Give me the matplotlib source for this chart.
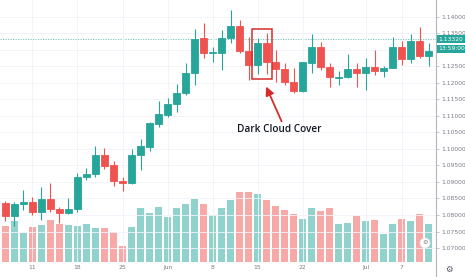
import matplotlib
matplotlib.use("Agg")
import matplotlib.pyplot as plt
from matplotlib.patches import Rectangle
import numpy as np

# daily EURUSD candles, 6 May - 10 Jul
opens = [1.0837, 1.0797, 1.0834, 1.0840, 1.0808, 1.0848, 1.0819, 1.0805, 1.0818, 1.0916,
         1.0923, 1.0982, 1.0952, 1.0902, 1.0896, 1.0982, 1.1007, 1.1076, 1.1103, 1.1135,
         1.1169, 1.1231, 1.1335, 1.1290, 1.1292, 1.1337, 1.1374, 1.1298, 1.1255, 1.1322,
         1.1263, 1.1242, 1.1204, 1.1177, 1.1261, 1.1308, 1.1249, 1.1216, 1.1217, 1.1242,
         1.1229, 1.1248, 1.1236, 1.1246, 1.1308, 1.1272, 1.1328, 1.1283]
closes = [1.0797, 1.0834, 1.0840, 1.0809, 1.0848, 1.0818, 1.0805, 1.0819, 1.0916, 1.0924,
          1.0982, 1.0949, 1.0903, 1.0897, 1.0982, 1.1009, 1.1078, 1.1105, 1.1135, 1.1169,
          1.1231, 1.1332, 1.1290, 1.1295, 1.1337, 1.1374, 1.1298, 1.1255, 1.1322, 1.1263,
          1.1242, 1.1204, 1.1177, 1.1263, 1.1309, 1.1249, 1.1217, 1.1218, 1.1242, 1.1229,
          1.1248, 1.1237, 1.1245, 1.1308, 1.1272, 1.1328, 1.1282, 1.1298]
highs = [1.0843, 1.0838, 1.0876, 1.0855, 1.0885, 1.0898, 1.0825, 1.0852, 1.0928, 1.0942,
         1.1009, 1.1003, 1.0964, 1.0916, 1.0999, 1.1030, 1.1082, 1.1145, 1.1155, 1.1196,
         1.1261, 1.1363, 1.1383, 1.1310, 1.1361, 1.1421, 1.1391, 1.1340, 1.1335, 1.1352,
         1.1300, 1.1260, 1.1245, 1.1265, 1.1349, 1.1325, 1.1260, 1.1237, 1.1288, 1.1262,
         1.1275, 1.1300, 1.1252, 1.1340, 1.1328, 1.1348, 1.1371, 1.1322]
lows = [1.0783, 1.0767, 1.0815, 1.0800, 1.0785, 1.0810, 1.0776, 1.0803, 1.0810, 1.0906,
        1.0916, 1.0939, 1.0888, 1.0873, 1.0894, 1.0936, 1.0995, 1.1068, 1.1097, 1.1113,
        1.1164, 1.1194, 1.1276, 1.1265, 1.1239, 1.1320, 1.1290, 1.1209, 1.1227, 1.1227,
        1.1204, 1.1194, 1.1171, 1.1174, 1.1231, 1.1239, 1.1189, 1.1194, 1.1214, 1.1189,
        1.1179, 1.1224, 1.1219, 1.1245, 1.1255, 1.1260, 1.1275, 1.1252]
volumes = [36, 41, 29, 35, 37, 42, 38, 37, 36, 38,
           34, 34, 30, 16, 35, 54, 49, 55, 45, 54,
           58, 63, 58, 47, 54, 62, 70, 70, 68, 62,
           56, 52, 48, 43, 54, 51, 54, 38, 39, 46,
           41, 42, 28, 38, 43, 41, 48, 38]

xtick_pos = [3, 8, 13, 18, 23, 28, 33, 40, 44]
xtick_labels = ["11", "18", "25", "Jun", "8", "15", "22", "Jul", "7"]
price_ticks = np.arange(1.070, 1.1401, 0.005)
last_price = 1.13320
countdown = "13:59:00"
pattern_idx = [28, 29]

UP = "#26a69a"
DOWN = "#ef5350"
UP_VOL = "#92d2cc"
DOWN_VOL = "#f7a9a7"
LABEL = "#787b86"

o = np.array(opens)
c = np.array(closes)
x = np.arange(len(o))
up = c >= o
col = np.where(up, UP, DOWN)
vcol = np.where(up, UP_VOL, DOWN_VOL)

fig = plt.figure(figsize=(4.65, 2.77), dpi=100)
rect = [0, 15 / 277, 436 / 465, 262 / 277]
axv = fig.add_axes(rect)
ax = fig.add_axes(rect)
ax.patch.set_visible(False)

# volume pane behind the candles
axv.bar(x, volumes, width=0.88, color=vcol, zorder=2)
axv.set_ylim(0, 262)
axv.set_xlim(-0.61, 47.83)
axv.axis("off")

# candles
ax.vlines(x, lows, highs, colors=col, lw=0.8, zorder=3)
ax.bar(x, np.abs(c - o), bottom=np.minimum(o, c), width=0.78, color=col,
       edgecolor=col, linewidth=0.6, zorder=4)

ax.set_xlim(-0.61, 47.83)
ax.set_ylim(1.065758, 1.14515)

ax.axhline(last_price, color=UP, lw=0.6, ls=(0, (1.5, 1.5)), alpha=0.7, zorder=1)

# the 1.13000 label sits under the countdown tag
ylabels = ["%.5f" % p for p in price_ticks]
hidden = int(np.argmin(np.abs(price_ticks - 1.130)))
ylabels[hidden] = ""

ax.yaxis.tick_right()
ax.set_yticks(price_ticks)
ax.set_yticklabels(ylabels)
ax.set_xticks(xtick_pos)
ax.set_xticklabels(xtick_labels)
ax.tick_params(axis="y", labelsize=4.3, colors="#b2b5be", labelcolor=LABEL,
               length=2, width=0.5, pad=1.5)
ax.tick_params(axis="x", labelsize=4.3, labelcolor=LABEL, length=0, pad=2.5)
ax.grid(True, color="#f0f3fa", lw=0.6, zorder=0)
for s in ["left", "top", "bottom"]:
    ax.spines[s].set_visible(False)
ax.spines["right"].set_color("#b2b5be")
ax.spines["right"].set_linewidth(0.8)

# last price tag + countdown
ax.annotate("%.5f" % last_price, xy=(1.0, last_price), xycoords=("axes fraction", "data"),
            xytext=(2, 0), textcoords="offset points", ha="left", va="center",
            fontsize=4.3, color="white",
            bbox=dict(boxstyle="square,pad=0.25", fc=UP, ec="none"), zorder=10,
            annotation_clip=False)
ax.annotate(countdown, xy=(1.0, last_price), xycoords=("axes fraction", "data"),
            xytext=(2, -6.6), textcoords="offset points", ha="left", va="center",
            fontsize=4.3, color="white",
            bbox=dict(boxstyle="square,pad=0.25", fc=UP, ec="none"), zorder=10,
            annotation_clip=False)

# dark cloud cover marker
x0 = pattern_idx[0] - 0.65
x1 = pattern_idx[-1] + 0.57
y0 = min(lows[pattern_idx[0]:pattern_idx[-1] + 1]) - 0.0015
y1 = max(highs[pattern_idx[0]:pattern_idx[-1] + 1]) + 0.0011
ax.add_patch(Rectangle((x0, y0), x1 - x0, y1 - y0, fill=False, ec="#d62c2c",
                       lw=1.1, zorder=6))
ax.annotate("", xy=(28.83, 1.1197), xytext=(30.8, 1.1076),
            arrowprops=dict(arrowstyle="-|>,head_length=0.5,head_width=0.25",
                            color="#d62c2c", lw=1.3), zorder=6)
ax.text(30.4, 1.1058, "Dark Cloud Cover", ha="center", va="center",
        fontsize=7.2, family="Open Sans", weight="semibold", color="#131722", zorder=7)

# chart widgets
fig.text(449 / 465, 1 - 269 / 277, "\u2699", ha="center", va="center",
         fontsize=6, color="#50535e")
fig.text(425 / 465, 1 - 243 / 277, "\u2699", ha="center", va="center",
         fontsize=4.5, color="#787b86",
         bbox=dict(boxstyle="circle,pad=0.35", fc="white", ec="#e6e6e6", lw=0.5))
fig.add_artist(plt.Line2D([436 / 465, 436 / 465], [0, 15 / 277], color="#b2b5be",
                          lw=0.8, transform=fig.transFigure))

fig.savefig("out.png", dpi=100)
